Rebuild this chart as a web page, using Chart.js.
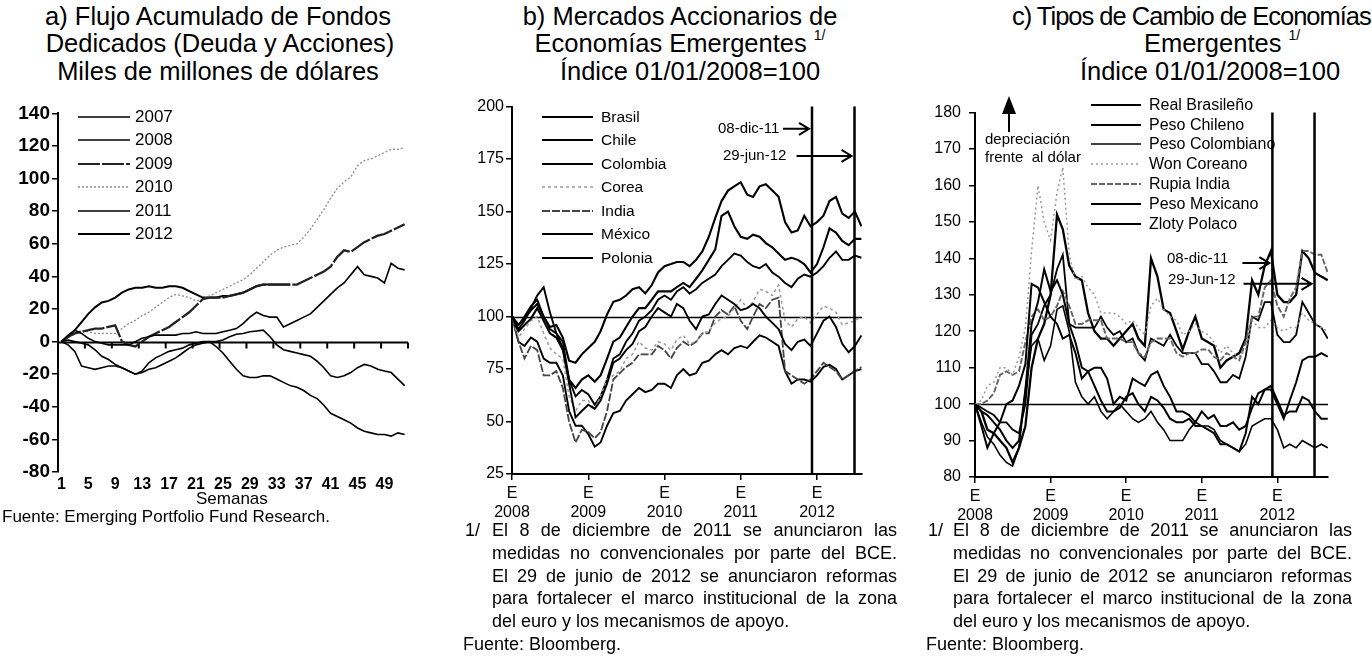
<!DOCTYPE html>
<html lang="es">
<head>
<meta charset="utf-8">
<title>Flujos de fondos, mercados accionarios y tipos de cambio emergentes</title>
<script src="https://cdn.jsdelivr.net/npm/chart.js@4.4.1/dist/chart.umd.min.js"></script>
<style>
  html, body { margin: 0; padding: 0; background: #fff; }
  body { position: relative; width: 1372px; height: 658px; overflow: hidden;
         font-family: "Liberation Sans", Arial, Helvetica, sans-serif; color: #000; }
  .tit { position: absolute; font-size: 25.5px; line-height: 28px; white-space: nowrap; transform: translateX(-50%); }
  .tit.izq { transform: none; }
  .tit sup { font-size: 14px; line-height: 0; vertical-align: 12px; margin-left: 7px; }
  .panel { position: absolute; }
  .texto { position: absolute; white-space: nowrap; }
  .leyenda { position: absolute; }
  .leyenda .fila { display: flex; align-items: center; white-space: nowrap; }
  .leyenda svg { display: block; flex: none; }
  .nota { position: absolute; font-size: 18px; line-height: 22.75px; }
  .nota .num { position: absolute; left: 0; top: 0; }
  .nota .linea { text-align: justify; text-align-last: justify; white-space: nowrap; }
  .nota .linea.ultima { text-align-last: left; }
</style>
</head>
<body>

<!-- Titulos -->
<div class="tit" style="left:218px; top:2px;">a) Flujo Acumulado de Fondos</div>
<div class="tit" style="left:220px; top:29px;">Dedicados (Deuda y Acciones)</div>
<div class="tit" style="left:218px; top:57px;">Miles de millones de dólares</div>
<div class="tit" style="left:680px; top:2px;">b) Mercados Accionarios de</div>
<div class="tit" style="left:680px; top:29px;">Economías Emergentes<sup>1/</sup></div>
<div class="tit" style="left:690px; top:57px;">Índice 01/01/2008=100</div>
<div class="tit izq" style="left:1012px; top:2px; letter-spacing:-1px;">c) Tipos de Cambio de Economías</div>
<div class="tit" style="left:1222px; top:29px;">Emergentes<sup>1/</sup></div>
<div class="tit" style="left:1210px; top:57px;">Índice 01/01/2008=100</div>

<!-- Graficas -->
<div class="panel" style="left:0px; top:100px; width:430px; height:420px;"><canvas id="graficaA"></canvas></div>
<div class="panel" style="left:460px; top:95px; width:420px; height:440px;"><canvas id="graficaB"></canvas></div>
<div class="panel" style="left:915px; top:95px; width:440px; height:440px;"><canvas id="graficaC"></canvas></div>

<!-- Leyendas -->
<div class="leyenda" id="leyendaA" style="left:78px; top:105px; font-size:17px;"></div>
<div class="leyenda" id="leyendaB" style="left:542px; top:105px; font-size:15.5px;"></div>
<div class="leyenda" id="leyendaC" style="left:1091px; top:95px; font-size:16px;"></div>

<!-- Anotaciones -->
<div class="texto" style="left:718px; top:119px; font-size:15px;">08-dic-11</div>
<div class="texto" style="left:723px; top:146px; font-size:15px;">29-jun-12</div>
<div class="texto" style="left:1167px; top:249px; font-size:15px;">08-dic-11</div>
<div class="texto" style="left:1168px; top:270px; font-size:15px;">29-Jun-12</div>
<div class="texto" style="left:985px; top:130px; font-size:15px; line-height:18px;">depreciación<br>frente &nbsp;al dólar</div>
<svg class="texto" style="left:1000px; top:94px;" width="18" height="40">
  <polygon points="9,2 2,20 16,20" fill="#000"/>
  <line x1="9" y1="18" x2="9" y2="38" stroke="#000" stroke-width="2"/>
</svg>

<!-- Ejes y notas -->
<div class="texto" style="left:196px; top:489px; font-size:17px;">Semanas</div>
<div class="texto" style="left:2px; top:507px; font-size:17px;">Fuente: Emerging Portfolio Fund Research.</div>

<div class="nota" style="left:465px; top:519px; width:432px;">
  <span class="num">1/</span>
  <div style="margin-left:27px;">
    <div class="linea">El 8 de diciembre de 2011 se anunciaron las</div>
    <div class="linea">medidas no convencionales por parte del BCE.</div>
    <div class="linea">El 29 de junio de 2012 se anunciaron reformas</div>
    <div class="linea">para fortalecer el marco institucional de la zona</div>
    <div class="linea ultima">del euro y los mecanismos de apoyo.</div>
  </div>
  <div style="margin-left:-2px;">Fuente: Bloomberg.</div>
</div>

<div class="nota" style="left:928px; top:519px; width:424px;">
  <span class="num">1/</span>
  <div style="margin-left:25px;">
    <div class="linea">El 8 de diciembre de 2011 se anunciaron las</div>
    <div class="linea">medidas no convencionales por parte del BCE.</div>
    <div class="linea">El 29 de junio de 2012 se anunciaron reformas</div>
    <div class="linea">para fortalecer el marco institucional de la zona</div>
    <div class="linea ultima">del euro y los mecanismos de apoyo.</div>
  </div>
  <div style="margin-left:-2px;">Fuente: Bloomberg.</div>
</div>

<script>
// ---------- Datos panel a: flujos acumulados por semana (miles de millones de dolares) ----------
const semanas = [1, 2, 3, 4, 5, 6, 7, 8, 9, 10, 11, 12, 13, 14, 15, 16, 17, 18, 19, 20, 21, 22, 23, 24, 25, 26,
                 27, 28, 29, 30, 31, 32, 33, 34, 35, 36, 37, 38, 39, 40, 41, 42, 43, 44, 45, 46, 47, 48, 49, 50, 51, 52];
const semanasEtiquetas = [1, 5, 9, 13, 17, 21, 25, 29, 33, 37, 41, 45, 49];
const semanasMarcas = [0.5, 4.5, 8.5, 12.5, 16.5, 20.5, 24.5, 28.5, 32.5, 36.5, 40.5, 44.5, 48.5, 52.5];

const flujo2007 = [0, 4, 7, 5, 2, 0, -1, -2, -2, -2, -2, 0, 2, 3, 4, 4, 4, 4, 5, 5, 6, 5, 5, 5, 6, 7,
                   8, 11, 15, 18, 16, 15, 15, 9, 11, 13, 15, 17, 21, 25, 29, 33, 36, 41, 46, 41, 40, 39, 36, 48, 45, 44];
const flujo2008 = [0, 1, 0, -1, -2, -5, -9, -11, -14, -16, -18, -20, -19, -17, -16, -14, -12, -10, -7, -4, -2, -1, 0, -3, -7, -12,
                   -17, -21, -22, -22, -21, -21, -23, -25, -27, -28, -30, -33, -35, -39, -44, -46, -48, -50, -53, -55, -56, -57, -57, -58, -56, -57];
const flujo2009 = [0, 3, 5, 6, 7, 8, 8, 9, 10, 0, -2, -3, 0, 3, 5, 7, 9, 12, 15, 18, 22, 26, 27, 27, 27, 28,
                   29, 30, 32, 34, 35, 35, 35, 35, 35, 35, 37, 39, 41, 43, 46, 52, 56, 55, 58, 61, 63, 65, 66, 68, 70, 72];
const flujo2010 = [0, 2, 5, 7, 6, 5, 5, 5, 5, 8, 11, 13, 16, 18, 21, 24, 27, 29, 28, 27, 25, 26, 28, 30, 32, 34,
                   36, 38, 41, 45, 49, 53, 56, 58, 59, 60, 64, 69, 75, 81, 88, 94, 98, 101, 108, 111, 112, 114, 116, 118, 118, 119];
const flujo2011 = [0, -2, -6, -15, -16, -17, -16, -15, -15, -16, -18, -20, -18, -13, -10, -8, -6, -5, -4, -2, -1, 0, 0, 0, 1, 3,
                   4.5, 5, 6, 6.5, 7, 3, -2, -5, -6, -7, -8, -9, -12, -16, -21, -22, -21, -19, -16, -14, -15, -17, -18, -19, -23, -27];
const flujo2012 = [0, 3, 7, 12, 17, 21, 24, 25, 27, 30, 32, 33, 33, 34, 33, 33, 34, 34, 33, 31, 29, 27, 27, 27, 28, 28,
                   29, 30, 32, 34, 35, 35, 35, 35, 35, null, null, null, null, null, null, null, null, null, null, null, null, null, null, null, null, null];

// ---------- Fechas mensuales para los paneles b y c ----------
const meses = ['2008-01', '2008-02', '2008-03', '2008-04', '2008-05', '2008-06', '2008-07', '2008-08', '2008-09', '2008-10', '2008-11', '2008-12',
               '2009-01', '2009-02', '2009-03', '2009-04', '2009-05', '2009-06', '2009-07', '2009-08', '2009-09', '2009-10', '2009-11', '2009-12',
               '2010-01', '2010-02', '2010-03', '2010-04', '2010-05', '2010-06', '2010-07', '2010-08', '2010-09', '2010-10', '2010-11', '2010-12',
               '2011-01', '2011-02', '2011-03', '2011-04', '2011-05', '2011-06', '2011-07', '2011-08', '2011-09', '2011-10', '2011-11', '2011-12',
               '2012-01', '2012-02', '2012-03', '2012-04', '2012-05', '2012-06', '2012-07', '2012-08', '2012-09'];
const anios = [2008, 2009, 2010, 2011, 2012];
const eventos = ['2011-12-08', '2012-06-29'];

// ---------- Datos panel b: indices accionarios (01/01/2008=100) ----------
const accBrasil = [100, 94, 98, 104, 110, 114, 102, 92, 85, 68, 52, 55,
                   58, 56, 60, 68, 78, 80, 84, 87, 93, 95, 100, 104,
                   102, 100, 106, 104, 98, 94, 100, 101, 106, 110, 108, 106,
                   103, 104, 106, 104, 100, 97, 94, 87, 84, 88, 89, 86,
                   92, 98, 100, 95, 87, 83, 86, 91];
const accChile = [100, 96, 99, 103, 106, 100, 95, 96, 90, 79, 78, 82,
                  85, 88, 93, 101, 107, 108, 110, 113, 114, 111, 115, 121,
                  124, 125, 126, 126, 124, 127, 131, 138, 147, 155, 160, 162,
                  164, 158, 157, 162, 163, 160, 157, 145, 140, 141, 148, 143,
                  145, 148, 155, 157, 149, 147, 150, 143];
const accColombia = [100, 93, 96, 99, 104, 98, 92, 90, 84, 70, 66, 70,
                     72, 69, 72, 80, 88, 90, 95, 100, 104, 104, 108, 112,
                     112, 112, 114, 116, 114, 118, 122, 127, 132, 148, 150, 143,
                     138, 137, 139, 138, 135, 133, 130, 127, 128, 127, 125, 121,
                     125, 133, 142, 140, 136, 134, 137, 137];
const accCorea = [100, 90, 94, 98, 100, 92, 85, 82, 80, 62, 55, 60,
                  60, 56, 62, 70, 72, 74, 80, 82, 88, 85, 84, 88,
                  87, 84, 89, 91, 87, 88, 92, 93, 97, 99, 100, 104,
                  108, 104, 107, 113, 112, 110, 115, 98, 95, 99, 100, 97,
                  101, 105, 104, 102, 96, 97, 98, 100];
const accIndia = [100, 88, 80, 86, 84, 72, 72, 74, 66, 50, 40, 46,
                  45, 42, 45, 55, 70, 73, 76, 78, 82, 82, 82, 86,
                  84, 80, 85, 88, 86, 88, 92, 92, 100, 103, 101, 105,
                  98, 94, 100, 106, 104, 108, 109, 74, 72, 70, 68, 70,
                  74, 78, 76, 74, 70, 72, 74, 76];
const accMexico = [100, 96, 100, 105, 108, 100, 94, 92, 88, 70, 62, 65,
                   63, 58, 62, 70, 80, 82, 88, 92, 98, 100, 103, 108,
                   110, 108, 112, 114, 111, 113, 116, 118, 120, 124, 127, 130,
                   129, 126, 124, 123, 125, 121, 119, 116, 114, 118, 120, 119,
                   121, 124, 128, 131, 127, 127, 129, 128];
const accPolonia = [100, 88, 86, 90, 88, 80, 78, 78, 72, 55, 48, 48,
                    44, 38, 40, 48, 54, 55, 60, 63, 66, 64, 65, 68,
                    68, 66, 72, 75, 72, 73, 78, 79, 82, 84, 82, 85,
                    86, 85, 88, 91, 90, 88, 86, 74, 68, 70, 70, 69,
                    72, 76, 77, 75, 70, 72, 74, 75];

// ---------- Datos panel c: tipos de cambio (01/01/2008=100) ----------
const tcReal = [100, 98, 97, 95, 93, 90, 88, 90, 104, 122, 128, 137,
                131, 134, 130, 122, 117, 110, 109, 105, 101, 98, 98, 99,
                102, 103, 100, 98, 102, 101, 99, 96, 95, 95, 96, 94,
                94, 93, 92, 89, 89, 88, 87, 92, 102, 100, 104, 104,
                100, 96, 101, 106, 112, 113, 113, 114, 113];
const tcChileno = [100, 94, 88, 92, 95, 100, 101, 105, 111, 133, 132, 128,
                   124, 122, 118, 119, 114, 107, 109, 110, 110, 107, 100, 102,
                   101, 107, 106, 105, 108, 109, 105, 102, 98, 98, 97, 95,
                   98, 96, 97, 94, 94, 95, 93, 94, 99, 103, 104, 105,
                   101, 97, 98, 98, 102, 101, 98, 96, 96];
const tcColombiano = [100, 95, 91, 89, 86, 84, 83, 88, 104, 116, 118, 112,
                      116, 126, 127, 120, 106, 102, 100, 102, 98, 96, 98, 100,
                      98, 96, 95, 96, 98, 95, 93, 90, 90, 90, 93, 95,
                      94, 94, 93, 90, 89, 88, 87, 89, 94, 95, 96, 96,
                      93, 88, 89, 88, 90, 89, 88, 89, 88];
const tcWon = [100, 101, 105, 106, 110, 110, 108, 113, 121, 142, 160, 150,
               145, 158, 165, 141, 134, 135, 132, 130, 125, 125, 125, 124,
               122, 123, 121, 119, 127, 129, 126, 124, 123, 119, 120, 122,
               120, 119, 117, 114, 116, 114, 113, 115, 123, 121, 121, 123,
               121, 120, 121, 121, 125, 123, 122, 121, 120];
const tcRupia = [100, 100, 101, 103, 108, 109, 108, 109, 117, 124, 126, 123,
                 124, 127, 131, 127, 122, 122, 123, 123, 123, 118, 118, 118,
                 117, 117, 114, 113, 117, 118, 118, 118, 114, 113, 114, 114,
                 115, 115, 113, 112, 114, 113, 112, 117, 124, 124, 132, 134,
                 127, 124, 129, 132, 142, 142, 141, 141, 136];
const tcMexicano = [100, 99, 98, 97, 95, 95, 93, 92, 100, 119, 122, 127,
                    130, 137, 141, 122, 121, 121, 121, 121, 124, 121, 119, 120,
                    117, 118, 114, 112, 118, 117, 116, 119, 116, 114, 114, 114,
                    111, 111, 109, 106, 106, 108, 107, 113, 124, 123, 128, 128,
                    119, 117, 117, 119, 128, 125, 122, 121, 118];
const tcZloty = [100, 98, 93, 92, 90, 88, 84, 88, 94, 110, 118, 122,
                 130, 152, 148, 138, 135, 134, 125, 120, 118, 118, 116, 118,
                 120, 122, 118, 116, 140, 135, 126, 125, 120, 115, 120, 124,
                 118, 117, 116, 110, 112, 113, 114, 118, 134, 130, 138, 142,
                 130, 128, 128, 130, 142, 140, 136, 135, 134];

// Estilos de linea (color, ancho, guion)
const estilosA = [
  { color: '#000', ancho: 1.6, guion: [] },         // 2007
  { color: '#000', ancho: 1.6, guion: [] },         // 2008
  { color: '#222', ancho: 2.3, guion: [22, 2] },    // 2009
  { color: '#8c8c8c', ancho: 1.3, guion: [2, 2] },  // 2010
  { color: '#000', ancho: 1.6, guion: [] },         // 2011
  { color: '#000', ancho: 2, guion: [] }            // 2012
];
const estilosB = [
  { color: '#000', ancho: 1.9, guion: [] },
  { color: '#000', ancho: 2.1, guion: [] },
  { color: '#000', ancho: 2.1, guion: [] },
  { color: '#999', ancho: 1.5, guion: [3, 3] },
  { color: '#444', ancho: 1.8, guion: [8, 2] },
  { color: '#000', ancho: 1.9, guion: [] },
  { color: '#000', ancho: 1.9, guion: [] }
];
const estilosC = [
  { color: '#000', ancho: 2, guion: [] },
  { color: '#000', ancho: 2, guion: [] },
  { color: '#000', ancho: 1.6, guion: [] },
  { color: '#999', ancho: 1.5, guion: [2, 3] },
  { color: '#666', ancho: 1.9, guion: [6, 2] },
  { color: '#000', ancho: 1.8, guion: [] },
  { color: '#000', ancho: 2.3, guion: [] }
];

const nombresA = ['2007', '2008', '2009', '2010', '2011', '2012'];
const nombresB = ['Brasil', 'Chile', 'Colombia', 'Corea', 'India', 'México', 'Polonia'];
const nombresC = ['Real Brasileño', 'Peso Chileno', 'Peso Colombiano', 'Won Coreano', 'Rupia India', 'Peso Mexicano', 'Zloty Polaco'];

Chart.defaults.font.family = "'Liberation Sans', Arial, Helvetica, sans-serif";
Chart.defaults.color = '#000';

// Convierte 'AAAA-MM' o 'AAAA-MM-DD' en año decimal
function anioDecimal(fecha) {
  const [a, m, d] = fecha.split('-').map(Number);
  const inicio = Date.UTC(a, 0, 1);
  const fin = Date.UTC(a + 1, 0, 1);
  const actual = Date.UTC(a, m - 1, d || 1);
  return a + (actual - inicio) / (fin - inicio);
}

function puntosMensuales(valores) {
  return valores.map((v, i) => ({ x: anioDecimal(meses[i]), y: v }));
}

function crearDatasets(nombres, series, estilos, equis) {
  return series.map((valores, i) => ({
    label: nombres[i],
    data: equis(valores),
    borderColor: estilos[i].color,
    borderWidth: estilos[i].ancho,
    borderDash: estilos[i].guion,
    pointRadius: 0,
    tension: 0,
    fill: false,
    spanGaps: false
  }));
}

// Leyenda en HTML, a partir de los mismos nombres y estilos
function construirLeyenda(id, nombres, estilos, largo, alto, separacion) {
  const cont = document.getElementById(id);
  nombres.forEach((nombre, i) => {
    const e = estilos[i];
    const fila = document.createElement('div');
    fila.className = 'fila';
    fila.style.height = alto + 'px';
    fila.innerHTML = `<svg width="${largo}" height="8"><line x1="0" y1="4" x2="${largo}" y2="4" stroke="${e.color}" ` +
      `stroke-width="${Math.min(e.ancho, 2)}" stroke-dasharray="${e.guion.join(' ')}"/></svg>` +
      `<span style="margin-left:${separacion}px">${nombre}</span>`;
    cont.appendChild(fila);
  });
}

// Lineas de referencia, eventos y flechas
const referencias = {
  id: 'referencias',
  beforeDatasetsDraw(chart, args, opts) {
    const { ctx, chartArea: a, scales: { x, y } } = chart;
    if (opts.lineaH === undefined) return;
    const py = Math.round(y.getPixelForValue(opts.lineaH)) + 0.5;
    ctx.save();
    ctx.strokeStyle = '#000';
    ctx.lineWidth = opts.anchoH || 1.5;
    ctx.beginPath();
    ctx.moveTo(a.left, py);
    ctx.lineTo(a.right, py);
    ctx.stroke();
    (opts.marcasH || []).forEach(m => {
      const px = x.getPixelForValue(m);
      ctx.beginPath();
      ctx.moveTo(px, py);
      ctx.lineTo(px, py + 6);
      ctx.stroke();
    });
    ctx.restore();
  },
  afterDatasetsDraw(chart, args, opts) {
    const { ctx, chartArea: a, scales: { x, y } } = chart;
    ctx.save();
    ctx.strokeStyle = '#000';
    (opts.verticales || []).forEach(v => {
      const px = x.getPixelForValue(v);
      ctx.lineWidth = 2.5;
      ctx.beginPath();
      ctx.moveTo(px, a.top);
      ctx.lineTo(px, a.bottom);
      ctx.stroke();
    });
    (opts.flechas || []).forEach(f => {
      const punta = x.getPixelForValue(f.evento) - 3;
      const py = y.getPixelForValue(f.valor);
      ctx.lineWidth = 2;
      ctx.beginPath();
      ctx.moveTo(punta - f.largo, py);
      ctx.lineTo(punta, py);
      ctx.moveTo(punta - 10, py - 6);
      ctx.lineTo(punta, py);
      ctx.lineTo(punta - 10, py + 6);
      ctx.stroke();
    });
    ctx.restore();
  }
};

function ejeY(min, max, paso, ancho, fuente, relleno) {
  return {
    min: min, max: max,
    ticks: { stepSize: paso, font: fuente, padding: relleno },
    border: { display: true, color: '#000', width: 2 },
    grid: { drawOnChartArea: false, drawTicks: true, tickLength: 6, color: '#000', lineWidth: 1.5 },
    afterFit: s => { s.width = ancho; }
  };
}

function ejeAnios(max, alto) {
  return {
    type: 'linear', min: 2008, max: max,
    afterBuildTicks: s => { s.ticks = anios.map(v => ({ value: v })); },
    ticks: { autoSkip: false, maxRotation: 0, padding: 4, font: { size: 16, lineHeight: 1.2 },
             callback: v => ['E', String(v)] },
    border: { display: true, color: '#000', width: 2 },
    grid: { drawOnChartArea: false, drawTicks: true, tickLength: 6, color: '#000', lineWidth: 1.5 },
    afterFit: s => { s.height = alto; }
  };
}

function opcionesBase(escalas, padding, refs) {
  return {
    responsive: true,
    maintainAspectRatio: false,
    animation: false,
    devicePixelRatio: 1,
    layout: { padding: padding },
    scales: escalas,
    plugins: { legend: { display: false }, tooltip: { enabled: false }, referencias: refs }
  };
}

function iniciar() {
  const evs = eventos.map(anioDecimal);

  // Panel a
  new Chart(document.getElementById('graficaA'), {
    type: 'line',
    data: { datasets: crearDatasets(nombresA, [flujo2007, flujo2008, flujo2009, flujo2010, flujo2011, flujo2012], estilosA,
                                    valores => valores.map((v, i) => ({ x: semanas[i], y: v }))) },
    options: opcionesBase({
      x: {
        type: 'linear', min: 0.5, max: 52.5,
        afterBuildTicks: s => { s.ticks = semanasEtiquetas.map(v => ({ value: v })); },
        ticks: { autoSkip: false, maxRotation: 0, padding: 3, font: { size: 16, weight: 'bold' } },
        border: { display: false },
        grid: { display: false, drawTicks: false },
        afterFit: s => { s.height = 48; }
      },
      y: ejeY(-80, 140, 20, 58, { size: 19, weight: 'bold' }, 2)
    }, { top: 10, right: 22, left: 0, bottom: 0 }, { lineaH: 0, anchoH: 2, marcasH: semanasMarcas }),
    plugins: [referencias]
  });

  // Panel b
  new Chart(document.getElementById('graficaB'), {
    type: 'line',
    data: { datasets: crearDatasets(nombresB, [accBrasil, accChile, accColombia, accCorea, accIndia, accMexico, accPolonia], estilosB, puntosMensuales) },
    options: opcionesBase({
      x: ejeAnios(2012.59, 61),
      y: ejeY(25, 200, 25, 52, { size: 16 }, 2)
    }, { top: 10, right: 18, left: 0, bottom: 0 }, {
      lineaH: 100, anchoH: 1.5, verticales: evs,
      flechas: [{ evento: evs[0], valor: 189.4, largo: 26 }, { evento: evs[1], valor: 176.5, largo: 55 }]
    }),
    plugins: [referencias]
  });

  // Panel c
  new Chart(document.getElementById('graficaC'), {
    type: 'line',
    data: { datasets: crearDatasets(nombresC, [tcReal, tcChileno, tcColombiano, tcWon, tcRupia, tcMexicano, tcZloty], estilosC, puntosMensuales) },
    options: opcionesBase({
      x: ejeAnios(2012.67, 58),
      y: ejeY(80, 180, 10, 60, { size: 16 }, 8)
    }, { top: 10, right: 27, left: 0, bottom: 0 }, {
      lineaH: 100, anchoH: 1.5, verticales: evs,
      flechas: [{ evento: evs[0], valor: 138.7, largo: 27 }, { evento: evs[1], valor: 133, largo: 68 }]
    }),
    plugins: [referencias]
  });

  construirLeyenda('leyendaA', nombresA, estilosA, 52, 23.5, 5);
  construirLeyenda('leyendaB', nombresB, estilosB, 51, 23.5, 8);
  construirLeyenda('leyendaC', nombresC, estilosC, 50, 19.8, 8);
}

document.addEventListener('DOMContentLoaded', iniciar);
</script>
</body>
</html>
